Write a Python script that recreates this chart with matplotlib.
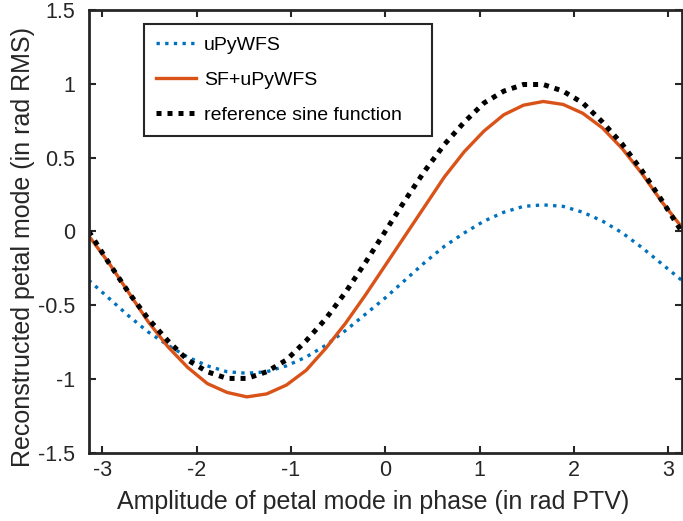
import matplotlib
matplotlib.use('Agg')
import matplotlib.pyplot as plt

plt.rcParams['font.family'] = ['Liberation Sans', 'DejaVu Sans']
plt.rcParams['axes.unicode_minus'] = False

x = [-3.1416, -2.9322, -2.7227, -2.5133, -2.3038, -2.0944, -1.8850, -1.6755,
     -1.4661, -1.2566, -1.0472, -0.8378, -0.6283, -0.4189, -0.2094, 0.0,
     0.2094, 0.4189, 0.6283, 0.8378, 1.0472, 1.2566, 1.4661, 1.6755,
     1.8850, 2.0944, 2.3038, 2.5133, 2.7227, 2.9322, 3.1416]

upywfs = [-0.33, -0.45, -0.57, -0.68, -0.77, -0.85, -0.91, -0.95,
          -0.96, -0.95, -0.91, -0.85, -0.77, -0.67, -0.56, -0.45,
          -0.33, -0.21, -0.10, -0.01, 0.07, 0.13, 0.17, 0.18,
          0.17, 0.13, 0.07, -0.01, -0.11, -0.22, -0.33]

sf_upywfs = [-0.03, -0.21, -0.41, -0.61, -0.78, -0.92, -1.03, -1.09,
             -1.12, -1.10, -1.04, -0.94, -0.79, -0.62, -0.43, -0.23,
             -0.03, 0.17, 0.37, 0.54, 0.68, 0.79, 0.855, 0.88,
             0.86, 0.80, 0.70, 0.56, 0.39, 0.20, 0.03]

ref_sine = [0.0, -0.21, -0.41, -0.59, -0.74, -0.87, -0.95, -0.995,
            -0.995, -0.95, -0.87, -0.74, -0.59, -0.41, -0.21, 0.0,
            0.21, 0.41, 0.59, 0.74, 0.87, 0.95, 0.995, 0.995,
            0.95, 0.87, 0.74, 0.59, 0.41, 0.21, 0.0]

xticks = [-3, -2, -1, 0, 1, 2, 3]
yticks = [-1.5, -1, -0.5, 0, 0.5, 1, 1.5]
yticklabels = ['-1.5', '-1', '-0.5', '0', '0.5', '1', '1.5']

fig = plt.figure(figsize=(6.83, 5.21), dpi=100)
ax = fig.add_axes([0.130, 0.1305, 0.868, 0.8505])

ax.plot(x, upywfs, color='#0072BD', linewidth=2.4, linestyle=(0, (1, 1.6)),
        dash_capstyle='butt', label='uPyWFS')
ax.plot(x, sf_upywfs, color='#D95319', linewidth=2.4, label='SF+uPyWFS')
ax.plot(x, ref_sine, color='black', linewidth=3.6, linestyle=(0, (1, 1.2)),
        dash_capstyle='butt', label='reference sine function')

ax.set_xlim(-3.1416, 3.1416)
ax.set_ylim(-1.5, 1.5)
ax.set_xticks(xticks)
ax.set_yticks(yticks)
ax.set_yticklabels(yticklabels)

ax.tick_params(direction='in', top=True, right=True, length=5, width=1.5,
               labelsize=15.5, colors='#262626')
ax.tick_params(axis='x', pad=5)
ax.tick_params(axis='y', pad=10)
for s in ax.spines.values():
    s.set_linewidth(2)
    s.set_color('#262626')

ax.set_xlabel('Amplitude of petal mode in phase (in rad PTV)', fontsize=18,
              color='#262626')
ax.set_ylabel('Reconstructed petal mode (in rad RMS)', fontsize=18,
              color='#262626')
ax.xaxis.set_label_coords(0.48, -0.083)
ax.yaxis.set_label_coords(-0.091, 0.464)

leg = ax.legend(loc='upper left', bbox_to_anchor=(0.0927, 0.718, 0.486, 0.25),
                mode='expand', borderaxespad=0, fontsize=14, fancybox=False,
                framealpha=1, edgecolor='#262626', handlelength=2.06,
                handletextpad=0.41, labelspacing=0.9, borderpad=0.63)
leg.get_frame().set_linewidth(1.5)

fig.savefig('out.png', dpi=100)
